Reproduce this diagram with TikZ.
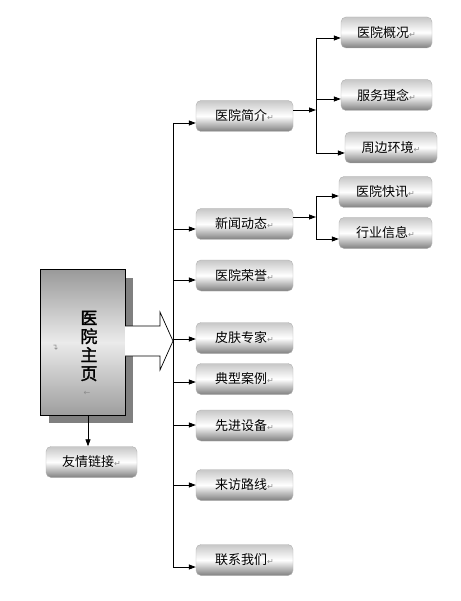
\documentclass[tikz,border=0pt]{standalone}
\usepackage{fontspec}
\newfontfamily\cjk{Noto Sans CJK SC}
\newfontfamily\cjkbf[FakeBold=1.6]{Noto Sans CJK SC}
\newfontfamily\symfont{DejaVu Sans}
\usetikzlibrary{arrows.meta}
\newcommand{\pmark}{{\symfont\fontsize{8}{8}\selectfont\color{black!45}↵}}

\begin{document}
\begin{tikzpicture}[x=1pt,y=-1pt,
  >={Triangle[length=7pt,width=5pt]},
  line width=0.8pt,
  page/.style = {shape=rectangle, draw=black, line width=0.9pt,
    minimum width=85pt, minimum height=146pt,
    top color=black!40, bottom color=black!38, middle color=black!8},
  item/.style = {shape=rectangle, rounded corners=5pt,
    draw=black!30, line width=0.4pt, inner sep=0pt,
    minimum width=97pt, minimum height=31pt,
    top color=black!22, bottom color=black!50, middle color=white,
    font=\cjk\fontsize{13}{13}\selectfont},
  subitem/.style = {item, minimum width=92pt}]

  \useasboundingbox (0,0) rectangle (460,601);

  % main page with its shadow
  \fill[black!50] (49,278) rectangle (133,423);
  \node[page] (home) at (82.5,342) {};
  \node[font=\cjkbf\fontsize{17}{18.5}\selectfont, align=center] (title) at (89,346)
    {医\\院\\主\\页};
  \node[font=\symfont\fontsize{8}{8}\selectfont, text=black!45, rotate=90] (pm1) at (56,347) {↵};
  \node[font=\symfont\fontsize{8}{8}\selectfont, text=black!45] (pm2) at (87,393) {←};

  % block arrow into the trunk
  \draw[line width=0.7pt, fill=white] (125,326) -- (160,326) -- (160,312) -- (173,341)
    -- (160,370) -- (160,356) -- (125,356);

  % first level
  \node[item] (jianjie) at (244.5,116) {医院简介\pmark};
  \node[item] (dongtai) at (244.5,224) {新闻动态\pmark};
  \node[item] (rongyu)  at (244.5,275.5) {医院荣誉\pmark};
  \node[item] (zhuanjia) at (244.5,338) {皮肤专家\pmark};
  \node[item] (anli)    at (244.5,379) {典型案例\pmark};
  \node[item] (shebei)  at (244.5,425.5) {先进设备\pmark};
  \node[item] (luxian)  at (244.5,485) {来访路线\pmark};
  \node[item] (lianxi)  at (244.5,560) {联系我们\pmark};

  % second level
  \node[subitem, minimum width=91pt] (gaikuang) at (386.5,32.5) {医院概况\pmark};
  \node[subitem, minimum width=91pt] (linian)   at (386.5,95) {服务理念\pmark};
  \node[subitem] (huanjing) at (391,147.5) {周边环境\pmark};
  \node[subitem, minimum width=93pt] (kuaixun)  at (385.5,192) {医院快讯\pmark};
  \node[subitem, minimum width=93pt] (xinxi)    at (385.5,233) {行业信息\pmark};

  % links
  \node[item, minimum width=91pt] (lianjie) at (91.5,462) {友情链接\pmark};

  % trunk
  \coordinate (t1) at (173,123);
  \coordinate (t2) at (173,229);
  \coordinate (t3) at (173,280);
  \coordinate (t4) at (173,339);
  \coordinate (t5) at (173,382);
  \coordinate (t6) at (173,425);
  \coordinate (t7) at (173,485);
  \coordinate (t8) at (173,567);
  \draw (t1) -- (t8);
  \draw[->] (t1) -- (t1 -| jianjie.west);
  \draw[->] (t2) -- (t2 -| dongtai.west);
  \draw[->] (t3) -- (t3 -| rongyu.west);
  \draw[->] (t4) -- (t4 -| zhuanjia.west);
  \draw[->] (t5) -- (t5 -| anli.west);
  \draw[->] (t6) -- (t6 -| shebei.west);
  \draw[->] (t7) -- (t7 -| luxian.west);
  \draw[->] (t8) -- (t8 -| lianxi.west);

  % branch of 医院简介
  \coordinate (s1) at (316,110);
  \coordinate (s1a) at (316,38);
  \coordinate (s1b) at (316,99);
  \coordinate (s1c) at (316,153);
  \draw[->] (s1 -| jianjie.east) -- (s1);
  \draw (s1a) -- (s1c);
  \draw[->] (s1a) -- (s1a -| gaikuang.west);
  \draw[->] (s1b) -- (s1b -| linian.west);
  \draw[->] (s1c) -- (s1c -| huanjing.west);

  % branch of 新闻动态
  \coordinate (s2) at (316,217);
  \coordinate (s2a) at (316,196);
  \coordinate (s2b) at (316,239);
  \draw[->] (s2 -| dongtai.east) -- (s2);
  \draw (s2a) -- (s2b);
  \draw[->] (s2a) -- (s2a -| kuaixun.west);
  \draw[->] (s2b) -- (s2b -| xinxi.west);

  % down to 友情链接
  \coordinate (d1) at (88,415);
  \draw[->] (d1) -- (d1 |- lianjie.north);
\end{tikzpicture}
\end{document}
